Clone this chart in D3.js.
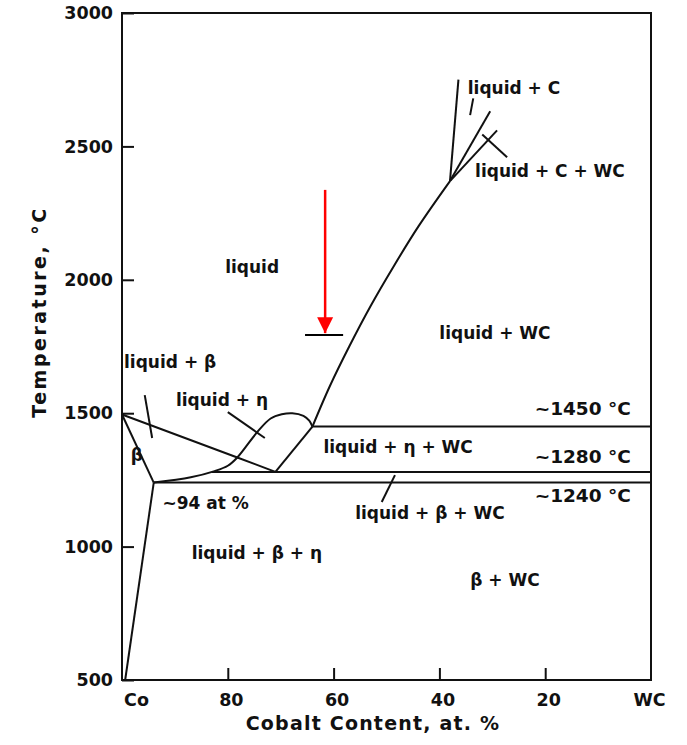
<!DOCTYPE html>
<html>
<head>
<meta charset="utf-8">
<script src="https://cdn.jsdelivr.net/npm/d3@7"></script>
<style>
  html, body { margin: 0; padding: 0; background: #fff; }
  svg text { font-family: "DejaVu Sans", sans-serif; font-weight: bold; fill: #111; }
</style>
</head>
<body>
<svg id="chart" width="687" height="745"></svg>
<script>
// ---- data (x = Cobalt content, at.%; y = temperature, °C) ----
const yTickValues = [500, 1000, 1500, 2000, 2500, 3000];
const xTickValues = [100, 80, 60, 40, 20, 0];
const xTickLabels = ["Co", "80", "60", "40", "20", "WC"];

const betaLiquidus   = [[100, 1495], [78.2, 1334], [71, 1280]];
const betaSolidus    = [[100, 1495], [94, 1240]];
const etaLiquidus    = [[94, 1240], [87, 1260], [82.5, 1283], [80, 1303], [78.2, 1334], [74.4, 1430], [71.9, 1480], [69.8, 1496], [67.8, 1500], [65.7, 1490], [64.6, 1472], [64, 1450]];
const peritectic     = [[64, 1450], [71, 1280]];
const betaSolvus     = [[94, 1240], [99.4, 500]];
const iso1450        = [[64, 1450], [0, 1450]];
const iso1280        = [[83, 1280], [0, 1280]];
const iso1240        = [[94, 1240], [0, 1240]];
const wcLiquidus     = [[64, 1450], [60.7, 1602], [57.0, 1752], [53.0, 1902], [48.6, 2052], [43.9, 2202], [38.0, 2370]];
const carbonLine1    = [[38.0, 2370], [36.4, 2750]];
const carbonLine2    = [[38.0, 2370], [30.4, 2632]];
const carbonLine3    = [[38.0, 2370], [29.1, 2560]];

const pointerLiqC     = [[33.6, 2680], [34.2, 2617]];
const pointerLiqCWC   = [[31.9, 2545], [27.2, 2459]];
const pointerLiqEta   = [[80.0, 1504], [73.0, 1407]];
const pointerLiqBeta  = [[95.7, 1568], [94.3, 1407]];
const pointerLiqBWC   = [[48.4, 1268], [50.9, 1167]];

const markerBar   = [[65.4, 1793], [58.2, 1793]];
const arrowShaft  = [[61.6, 2337], [61.6, 1800]];

const regionLabels = [
  ["liquid", 75.4, 2048],
  ["liquid + WC", 29.5, 1800],
  ["liquid + β", 90.9, 1692],
  ["liquid + η", 81.1, 1549],
  ["liquid + C", 25.9, 2718],
  ["liquid + C + WC", 19.1, 2407],
  ["liquid + η + WC", 47.8, 1373],
  ["liquid + β + WC", 41.8, 1126],
  ["β", 97.2, 1343],
  ["~94 at %", 84.2, 1163],
  ["liquid + β + η", 74.5, 976],
  ["β + WC", 27.6, 875]
];
const isoLabels = [
  ["~1450 °C", 12.9, 1519],
  ["~1280 °C", 12.9, 1336],
  ["~1240 °C", 12.9, 1190]
];

// ---- scales ----
const x = d3.scaleLinear().domain([100, 0]).range([122, 651]);
const y = d3.scaleLinear().domain([500, 3000]).range([680, 13]);

const svg = d3.select("#chart");

// frame
svg.append("rect")
  .attr("x", x(100)).attr("y", y(3000))
  .attr("width", x(0) - x(100)).attr("height", y(500) - y(3000))
  .attr("fill", "none").attr("stroke", "#111").attr("stroke-width", 2);

// y axis
const yAxis = d3.axisLeft(y).tickValues(yTickValues).tickSize(-12).tickPadding(9).tickFormat(d3.format("d"));
const gy = svg.append("g").attr("transform", `translate(${x(100)},0)`).call(yAxis);
gy.select(".domain").remove();
gy.selectAll(".tick line").attr("stroke", "#111").attr("stroke-width", 2);
gy.selectAll(".tick text").attr("font-size", 17.5).attr("font-family", "DejaVu Sans").attr("font-weight", "bold").attr("fill", "#111");

// x axis
const xAxis = d3.axisBottom(x).tickValues(xTickValues).tickSize(-12).tickPadding(14)
  .tickFormat((d, i) => xTickLabels[i]);
const gx = svg.append("g").attr("transform", `translate(0,${y(500)})`).call(xAxis);
gx.select(".domain").remove();
gx.selectAll(".tick line").attr("stroke", "#111").attr("stroke-width", 2)
  .attr("opacity", d => (d === 100 || d === 0) ? 0 : 1);
gx.selectAll(".tick text").attr("font-size", 17.5).attr("font-family", "DejaVu Sans").attr("font-weight", "bold").attr("fill", "#111")
  .attr("dx", d => d === 100 ? 14 : (d === 0 ? -2 : 3));

// axis titles
svg.append("text")
  .attr("x", 373).attr("y", 730)
  .attr("text-anchor", "middle").attr("font-size", 19).attr("letter-spacing", 1.2)
  .text("Cobalt Content, at. %");
svg.append("text")
  .attr("transform", `translate(46,312) rotate(-90)`)
  .attr("text-anchor", "middle").attr("font-size", 19).attr("letter-spacing", 2.5)
  .text("Temperature, °C");

// phase boundary lines
const line = d3.line().x(d => x(d[0])).y(d => y(d[1]));
const smooth = d3.line().x(d => x(d[0])).y(d => y(d[1])).curve(d3.curveCatmullRom.alpha(0.5));

const straightLines = [betaLiquidus, betaSolidus, peritectic, betaSolvus, iso1450, iso1280, iso1240,
  carbonLine1, carbonLine2, carbonLine3];
straightLines.forEach(l => {
  svg.append("path").attr("d", line(l)).attr("fill", "none")
    .attr("stroke", "#111").attr("stroke-width", 2);
});
[etaLiquidus, wcLiquidus].forEach(l => {
  svg.append("path").attr("d", smooth(l)).attr("fill", "none")
    .attr("stroke", "#111").attr("stroke-width", 2);
});
[pointerLiqC, pointerLiqCWC, pointerLiqEta, pointerLiqBeta, pointerLiqBWC].forEach(l => {
  svg.append("path").attr("d", line(l)).attr("fill", "none")
    .attr("stroke", "#111").attr("stroke-width", 2);
});

// region labels
regionLabels.forEach(([t, cx, cy]) => {
  svg.append("text").attr("x", x(cx)).attr("y", y(cy))
    .attr("text-anchor", "middle").attr("dominant-baseline", "central")
    .attr("font-size", 17).text(t);
});
isoLabels.forEach(([t, cx, cy]) => {
  svg.append("text").attr("x", x(cx)).attr("y", y(cy))
    .attr("text-anchor", "middle").attr("dominant-baseline", "central")
    .attr("font-size", 18.5).text(t);
});

// marker bar + red arrow
svg.append("path").attr("d", line(markerBar)).attr("stroke", "#000").attr("stroke-width", 2);
svg.append("path").attr("d", line(arrowShaft)).attr("stroke", "#ff0000").attr("stroke-width", 2.5);
const ax = x(arrowShaft[1][0]), tipY = y(arrowShaft[1][1]);
svg.append("path")
  .attr("d", `M${ax - 8},${tipY - 16} L${ax + 8},${tipY - 16} L${ax},${tipY} Z`)
  .attr("fill", "#ff0000");
</script>
</body>
</html>
